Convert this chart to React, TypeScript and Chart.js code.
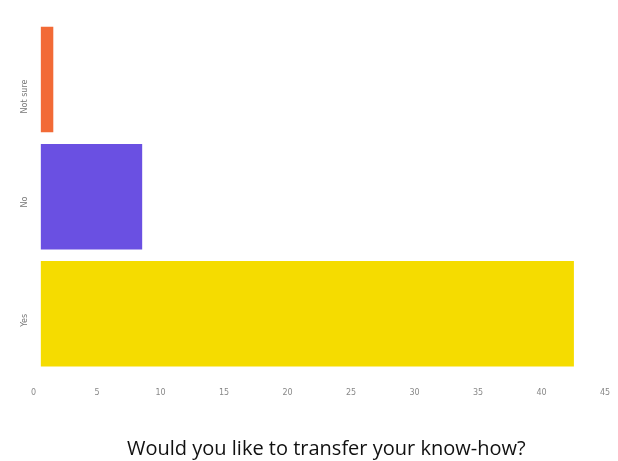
import React, { useEffect, useRef } from "react";
import { Chart, registerables } from "chart.js";

Chart.register(...registerables);

const categories = ["Not sure", "No", "Yes"];
const counts = [1, 8, 42];
const barColors = ["#F26A36", "#6A50E2", "#F5DC00"];
const xTicks = [0, 5, 10, 15, 20, 25, 30, 35, 40, 45];
const titleText = "Would you like to transfer your know-how?";

export default function App() {
  const ref = useRef<HTMLCanvasElement | null>(null);
  useEffect(() => {
    document.body.style.margin = "0";
    const ctx = ref.current!;
    const chart = new Chart(ctx, {
      type: "bar",
      data: {
        labels: categories,
        datasets: [
          {
            data: counts,
            backgroundColor: barColors,
            borderWidth: 0,
            barPercentage: 0.9,
            categoryPercentage: 1,
          },
        ],
      },
      options: {
        indexAxis: "y",
        responsive: false,
        animation: false,
        layout: { padding: { top: 21, right: 0, left: 7, bottom: 0 } },
        plugins: { legend: { display: false }, tooltip: { enabled: false } },
        scales: {
          x: {
            min: 0,
            max: 45,
            afterBuildTicks: (s: any) => {
              s.ticks = xTicks.map((v) => ({ value: v }));
            },
            afterFit: (s: any) => {
              s.paddingRight = 6;
              s.paddingLeft = 0;
            },
            grid: { display: false },
            border: { display: false },
            ticks: {
              color: "#888",
              font: { family: "DejaVu Sans", size: 8 },
              padding: 8,
              labelOffset: -7,
            },
            title: {
              display: true,
              text: titleText,
              color: "#111",
              font: { family: "Open Sans", size: 20 },
              padding: { top: 31, bottom: 0 },
            },
          },
          y: {
            grid: { display: false },
            border: { display: false },
            ticks: {
              color: "#777",
              font: { family: "DejaVu Sans", size: 8 },
              minRotation: 90,
              maxRotation: 90,
              padding: 8,
            },
          },
        },
      },
    });
    return () => chart.destroy();
  }, []);
  return (
    <div style={{ width: 618, height: 461 }}>
      <canvas ref={ref} width={618} height={461} />
    </div>
  );
}
